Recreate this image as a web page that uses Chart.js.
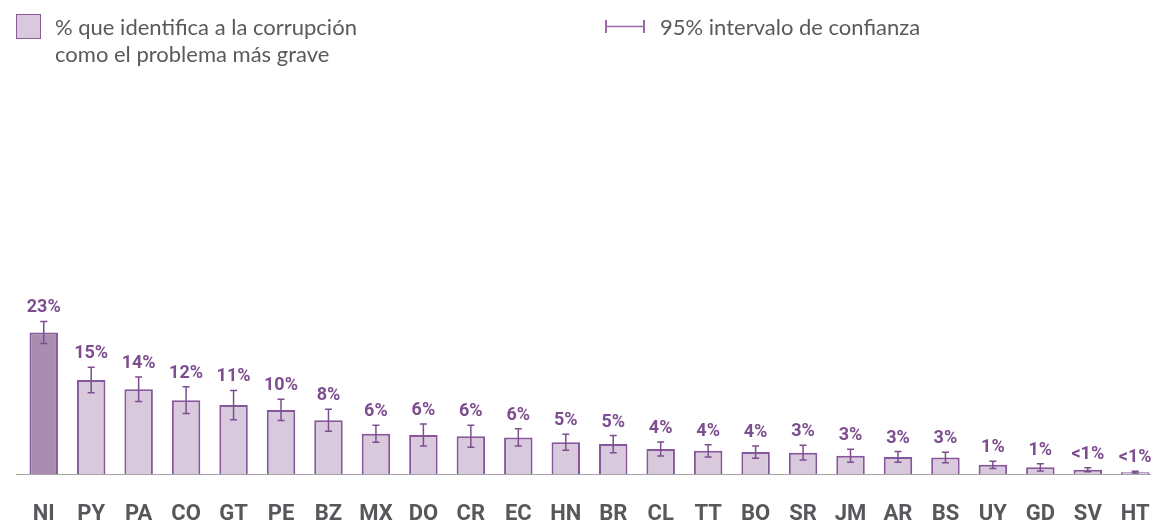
<!DOCTYPE html>
<html>
<head>
<meta charset="utf-8">
<script src="https://cdn.jsdelivr.net/npm/chart.js@4.4.1/dist/chart.umd.min.js"></script>
<style>
  html, body { margin:0; padding:0; background:#fff; overflow:hidden; width:1151px; height:524px; }
  #c { position:absolute; left:0; top:0; width:1160px; height:524px; }
  .leg { position:absolute; font-family: Lato, "Open Sans", sans-serif; font-size:22px; color:#5a5a5e; line-height:27px; white-space:nowrap; }
  #sq { position:absolute; left:16px; top:14px; width:23px; height:23px; background:#d9c9dd; border:1.5px solid #8a5a9a; }
  #eb { position:absolute; left:605px; top:20px; width:40px; height:13px; }
</style>
</head>
<body>
<canvas id="c" width="1160" height="524"></canvas>
<div id="sq"></div>
<div class="leg" style="left:55px; top:13px;">% que identifica a la corrupción<br>como el problema más grave</div>
<svg id="eb" viewBox="0 0 40 13"><line x1="1" y1="0" x2="1" y2="13" stroke="#9a6aa8" stroke-width="2"/><line x1="39" y1="0" x2="39" y2="13" stroke="#9a6aa8" stroke-width="2"/><line x1="1" y1="6.5" x2="39" y2="6.5" stroke="#9a6aa8" stroke-width="1.5"/></svg>
<div class="leg" style="left:660px; top:13px;">95% intervalo de confianza</div>
<script>
const categories = ["NI","PY","PA","CO","GT","PE","BZ","MX","DO","CR","EC","HN","BR","CL","TT","BO","SR","JM","AR","BS","UY","GD","SV","HT"];
const values = [23.2,15.4,13.9,12.1,11.3,10.5,8.8,6.6,6.4,6.2,6.0,5.2,4.9,4.1,3.8,3.6,3.5,3.0,2.8,2.7,1.5,1.1,0.7,0.3];
const errors = [1.8,2.1,2.0,2.2,2.4,1.75,1.8,1.4,1.8,1.8,1.4,1.3,1.4,1.15,1.0,1.0,1.2,1.07,0.87,0.87,0.6,0.6,0.33,0.15];
const valueLabels = ["23%","15%","14%","12%","11%","10%","8%","6%","6%","6%","6%","5%","5%","4%","4%","4%","3%","3%","3%","3%","1%","1%","<1%","<1%"];

const purple = "#7d4e8f";
const fills = categories.map((c,i)=> i===0 ? "#aa8cb1" : "#d9c9dd");

const overlay = {
  id:"overlay",
  afterDatasetsDraw(chart){
    const ctx = chart.ctx, x = chart.scales.x, y = chart.scales.y;
    ctx.save();
    ctx.strokeStyle = "#a4a4a4"; ctx.lineWidth = 1;
    const by = Math.round(y.getPixelForValue(0)) + 0.5;
    ctx.beginPath(); ctx.moveTo(16, by); ctx.lineTo(chart.width, by); ctx.stroke();
    ctx.strokeStyle = purple; ctx.lineWidth = 1.5;
    ctx.fillStyle = purple;
    ctx.font = "bold 18px Roboto";
    ctx.textAlign = "center"; ctx.textBaseline = "alphabetic";
    values.forEach((v,i)=>{
      const cx = x.getPixelForValue(i);
      const top = y.getPixelForValue(v + errors[i]);
      const bot = y.getPixelForValue(Math.max(0, v - errors[i]));
      ctx.beginPath();
      ctx.moveTo(cx, top); ctx.lineTo(cx, bot);
      ctx.moveTo(cx-3.5, top); ctx.lineTo(cx+3.5, top);
      ctx.moveTo(cx-3.5, bot); ctx.lineTo(cx+3.5, bot);
      ctx.stroke();
      ctx.fillText(valueLabels[i], cx, top - 9);
    });
    ctx.restore();
  }
};

new Chart(document.getElementById("c"), {
  type:"bar",
  data:{ labels:categories, datasets:[{ data:values, backgroundColor:fills, borderColor:"#86579a", borderWidth:2, categoryPercentage:1, barPercentage:0.6 }]},
  options:{
    responsive:false, animation:false, devicePixelRatio:1,
    layout:{ padding:{ left:20, right:1, top:0, bottom:0 } },
    plugins:{ legend:{display:false}, tooltip:{enabled:false} },
    scales:{
      x:{ grid:{display:false, drawTicks:false}, border:{display:false},
          afterFit(s){ s.height = 50; s.paddingLeft = 0; s.paddingRight = 0; },
          ticks:{ color:"#58585c", padding:29, font:{ family:"Roboto", weight:"bold", size:22, lineHeight:1 } } },
      y:{ display:false, min:0, max:77.7 }
    }
  },
  plugins:[overlay]
});
</script>
</body>
</html>
